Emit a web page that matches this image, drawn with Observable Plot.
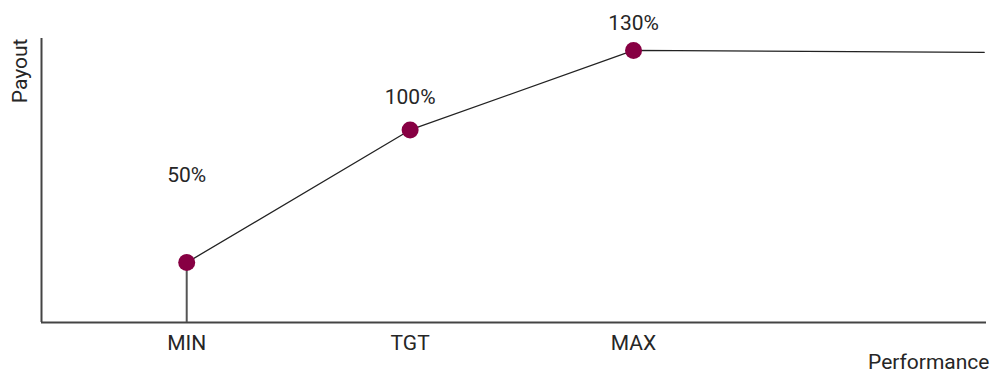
<!DOCTYPE html>
<html>
<head>
<meta charset="utf-8">
<script src="https://cdn.jsdelivr.net/npm/d3@7"></script>
<script src="https://cdn.jsdelivr.net/npm/@observablehq/plot@0.6"></script>
<style>
  html, body { margin: 0; padding: 0; background: #fff; }
  #chart { width: 992px; height: 374px; }
</style>
</head>
<body>
<div id="chart"></div>
<script>
// Performance levels (x) and payouts (y, %)
const levels = ["MIN", "TGT", "MAX"];
const perf = [1, 2, 3];
const payout = [50, 100, 130];
const payoutLabels = ["50%", "100%", "130%"];
// plateau beyond MAX
const capPerf = [3, 4.57];
const capPayout = [130, 129.3];

const xDomain = [0.35, 4.58];
const yDomain = [27.4, 134.5];

const points = levels.map((level, i) => ({level, perf: perf[i], payout: payout[i], label: payoutLabels[i]}));
const curve = points.map(d => ({perf: d.perf, payout: d.payout}))
  .concat(capPerf.slice(1).map((p, i) => ({perf: p, payout: capPayout[i + 1]})));

const dyFor = {MIN: -87, TGT: -33, MAX: -27};
const dot = "#870043";
const fs = 21;

const chart = Plot.plot({
  width: 992,
  height: 374,
  marginLeft: 41,
  marginRight: 6,
  marginTop: 38,
  marginBottom: 52,
  style: {fontFamily: "Roboto, sans-serif", fontSize: fs + "px", color: "#262626", background: "#fff", overflow: "visible"},
  x: {domain: xDomain},
  y: {domain: yDomain},
  marks: [
    Plot.axisX({
      ticks: perf,
      tickFormat: v => levels[perf.indexOf(v)],
      tickSize: 0,
      tickPadding: 13,
      fontSize: fs,
      label: "Performance",
      labelAnchor: "right",
      labelArrow: "none",
      labelOffset: 46
    }),
    Plot.axisY({ticks: [], label: null}),
    Plot.ruleX([xDomain[0]], {stroke: "#444", strokeWidth: 2}),
    Plot.ruleY([yDomain[0]], {stroke: "#444", strokeWidth: 2}),
    Plot.ruleX(points.slice(0, 1), {x: "perf", y1: yDomain[0], y2: "payout", stroke: "#555", strokeWidth: 2}),
    Plot.line(curve, {x: "perf", y: "payout", stroke: "#222", strokeWidth: 1.3}),
    Plot.dot(points, {x: "perf", y: "payout", r: 8.5, fill: dot, stroke: "none"}),
    ...levels.map(level => Plot.text(points.filter(d => d.level === level), {
      x: "perf", y: "payout", text: "label", dy: dyFor[level],
      fontSize: fs, fill: "#262626", lineAnchor: "middle"
    })),
    Plot.text(["Payout"], {
      frameAnchor: "top-left", rotate: -90, textAnchor: "end", lineAnchor: "middle",
      dx: -21, fontSize: fs, fill: "#262626"
    })
  ]
});
document.getElementById("chart").appendChild(chart);
</script>
</body>
</html>
